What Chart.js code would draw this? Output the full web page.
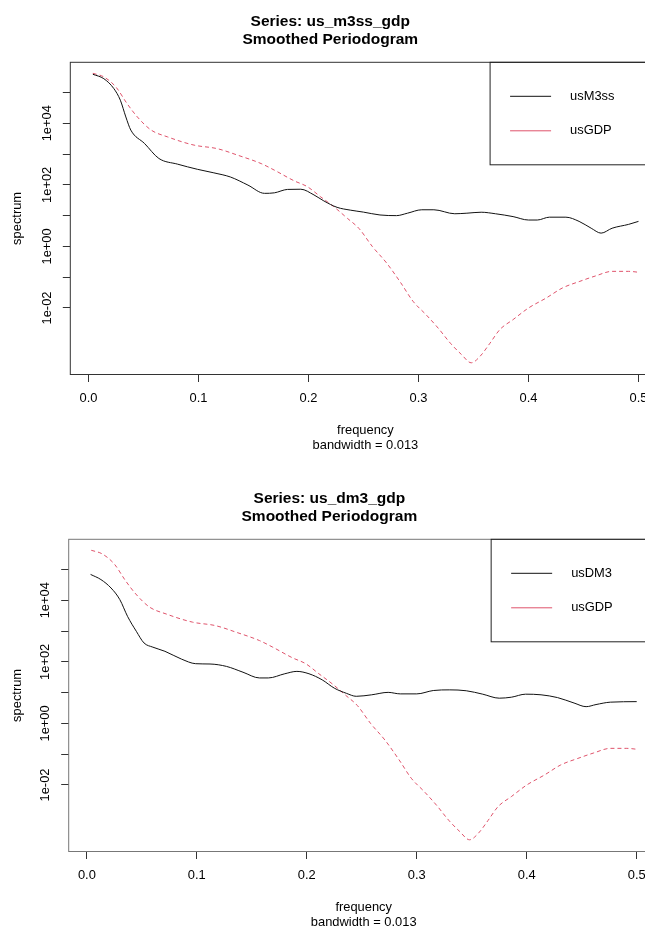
<!DOCTYPE html>
<html>
<head>
<meta charset="utf-8">
<script src="https://cdn.jsdelivr.net/npm/chart.js@4.4.0/dist/chart.umd.min.js"></script>
<style>
  html, body { margin: 0; padding: 0; background: #fff; overflow: hidden; }
  body { width: 645px; height: 928px; position: relative; }
  canvas { position: absolute; left: 0; }
  #m3ss { top: 0; }
  #dm3 { top: 477px; }
</style>
</head>
<body>
<canvas id="m3ss" width="731" height="460"></canvas>
<canvas id="dm3" width="727" height="460"></canvas>
<script>
// smoothed periodogram estimates: frequency / spectrum pairs per series
const m3ssFreq = [0.004, 0.014, 0.023, 0.029, 0.034, 0.0385, 0.051, 0.064, 0.081, 0.099,
  0.114, 0.129, 0.145, 0.160, 0.169, 0.181, 0.193, 0.205, 0.214, 0.226, 0.238, 0.250,
  0.265, 0.280, 0.290, 0.303, 0.314, 0.333, 0.344, 0.357, 0.370, 0.386, 0.400, 0.408,
  0.419, 0.434, 0.446, 0.457, 0.466, 0.476, 0.491, 0.500];
const m3ssSpec = [3.9e5, 2.8e5, 1.35e5, 5.6e4, 1.6e4, 6.0e3, 2.2e3, 7.2e2, 4.7e2, 3.2e2,
  2.45e2, 1.8e2, 98, 53, 55, 71, 72, 47, 30, 18.6, 15.1, 13.0,
  10.5, 10.0, 12.0, 15.5, 15.5, 11.5, 12.0, 12.9, 11.5, 9.3, 7.2, 7.2,
  8.9, 8.9, 6.5, 3.9, 2.7, 3.9, 5.2, 6.5];

const gdpFreq = [0.004, 0.014, 0.025, 0.035, 0.0445, 0.057, 0.072, 0.096, 0.117, 0.136,
  0.157, 0.169, 0.187, 0.199, 0.211, 0.223, 0.2355, 0.246, 0.258, 0.271, 0.284, 0.295,
  0.307, 0.318, 0.329, 0.339, 0.348, 0.356, 0.365, 0.374, 0.386, 0.400, 0.416, 0.431,
  0.446, 0.461, 0.476, 0.491, 0.500];
const gdpSpec = [4.2e5, 3.2e5, 1.5e5, 4.4e4, 1.6e4, 6.0e3, 3.6e3, 1.95e3, 1.5e3, 9.1e2,
  4.9e2, 3.0e2, 1.35e2, 87, 41, 19.5, 8.1, 3.8, 1.0, 0.29, 0.065, 0.0166,
  6.0e-3, 2.2e-3, 7.2e-4, 3.1e-4, 1.66e-4, 2.7e-4, 7.2e-4, 2.0e-3, 4.2e-3, 0.010, 0.021, 0.045,
  0.072, 0.11, 0.155, 0.155, 0.145];

const dm3Freq = [0.0034, 0.0128, 0.022, 0.030, 0.037, 0.045, 0.052, 0.060, 0.071, 0.086,
  0.099, 0.112, 0.127, 0.142, 0.157, 0.165, 0.180, 0.191, 0.202, 0.214, 0.225, 0.236,
  0.245, 0.259, 0.274, 0.285, 0.300, 0.315, 0.330, 0.345, 0.360, 0.375, 0.386, 0.399,
  0.413, 0.428, 0.443, 0.454, 0.463, 0.476, 0.500];
const dm3Spec = [6.9e4, 4.7e4, 2.5e4, 1.05e4, 3.0e3, 9.8e2, 4.1e2, 3.0e2, 2.2e2, 1.23e2,
  87, 85, 71, 46, 30, 30, 41, 49, 41, 26, 14, 9.5,
  7.6, 8.5, 10.2, 9.1, 9.1, 11.7, 12.3, 11.5, 8.9, 6.6, 7.1, 8.9,
  8.5, 6.9, 4.6, 3.5, 4.1, 4.9, 5.1];

const xTickValues = [0, 0.1, 0.2, 0.3, 0.4, 0.5];
const xTickLabels = ['0.0', '0.1', '0.2', '0.3', '0.4', '0.5'];
const yTickValues = [1e-2, 1e-1, 1e0, 1e1, 1e2, 1e3, 1e4, 1e5];
const yTickLabels = ['1e-02', '', '1e+00', '', '1e+02', '', '1e+04', ''];

const FONT = '"Liberation Sans", Arial, Helvetica, sans-serif';
const TEXT_SIZE = 12.9;
Chart.defaults.font.family = FONT;
Chart.defaults.color = '#000';

const toPoints = (xs, ys) => xs.map((x, i) => ({ x: x, y: ys[i] }));

// base-graphics look: plot box, rotated y labels, topright legend
const basePlot = {
  id: 'basePlot',
  afterDraw(chart, args, opts) {
    const { ctx, chartArea: a, scales } = chart;
    ctx.save();
    ctx.lineWidth = 1;
    ctx.strokeStyle = opts.boxColor;
    ctx.strokeRect(a.left, a.top, a.right - a.left, a.bottom - a.top);

    ctx.fillStyle = '#000';
    ctx.font = TEXT_SIZE + 'px ' + FONT;
    ctx.textAlign = 'center';
    ctx.textBaseline = 'middle';
    scales.y.ticks.forEach((t, i) => {
      const text = yTickLabels[i];
      if (!text) return;
      ctx.save();
      ctx.translate(a.left - 23, scales.y.getPixelForValue(t.value));
      ctx.rotate(-Math.PI / 2);
      ctx.fillText(text, 0, 0);
      ctx.restore();
    });

    const ds = chart.data.datasets;
    const textW = Math.max(...ds.map(d => ctx.measureText(d.label).width));
    const left = a.right - textW - 126;
    ctx.strokeStyle = '#222';
    ctx.strokeRect(left, a.top, a.right - left, 102.5);
    ctx.textAlign = 'left';
    ds.forEach((d, i) => {
      const y = a.top + 34 + i * 34.5;
      ctx.strokeStyle = d.borderColor;
      ctx.beginPath();
      ctx.moveTo(left + 20, y);
      ctx.lineTo(left + 61, y);
      ctx.stroke();
      ctx.fillText(d.label, left + 80, y);
    });
    ctx.restore();
  }
};

function periodogram(id, title, series, opts) {
  const axisFont = { size: TEXT_SIZE, lineHeight: '15px' };
  return new Chart(document.getElementById(id), {
    type: 'line',
    data: {
      datasets: series.map(s => ({
        label: s.label,
        data: toPoints(s.freq, s.spec),
        borderColor: s.color,
        borderWidth: 1,
        borderDash: s.dash || [],
        pointRadius: 0,
        cubicInterpolationMode: 'monotone',
        fill: false
      }))
    },
    options: {
      responsive: false,
      animation: false,
      devicePixelRatio: 1,
      layout: { padding: { left: 0, right: opts.padRight, top: 0, bottom: 7 } },
      plugins: {
        legend: { display: false },
        tooltip: { enabled: false },
        title: {
          display: true,
          text: title,
          color: '#000',
          font: { size: 15.5, weight: 'bold', lineHeight: '18.3px' },
          padding: { top: 12.5, bottom: 13.2 }
        },
        basePlot: { boxColor: opts.boxColor }
      },
      scales: {
        x: {
          type: 'linear',
          min: -0.0165,
          max: 0.52,
          afterBuildTicks: s => { s.ticks = xTickValues.map(v => ({ value: v })); },
          afterFit: s => { s.height = 78.5; },
          ticks: {
            callback: (v, i) => xTickLabels[i],
            font: axisFont,
            padding: 8.7,
            maxRotation: 0,
            autoSkip: false,
            color: '#000'
          },
          grid: { drawOnChartArea: false, drawTicks: true, tickLength: 7.5, color: '#333' },
          border: { display: false },
          title: {
            display: true,
            text: ['frequency', 'bandwidth = 0.013'],
            font: axisFont,
            padding: 0,
            color: '#000'
          }
        },
        y: {
          type: 'logarithmic',
          min: Math.pow(10, -4.16),
          max: Math.pow(10, 5.98),
          afterBuildTicks: s => { s.ticks = yTickValues.map(v => ({ value: v })); },
          afterFit: s => { s.width = opts.axisWidth; },
          ticks: { display: false },
          grid: { drawOnChartArea: false, drawTicks: true, tickLength: 7.5, color: '#333' },
          border: { display: false },
          title: {
            display: true,
            text: 'spectrum',
            font: axisFont,
            padding: { top: 9.5, bottom: 0 },
            color: '#000'
          }
        }
      }
    },
    plugins: [basePlot]
  });
}

const BLACK = '#111';
const RED = '#DF536B';

periodogram('m3ss', ['Series: us_m3ss_gdp', 'Smoothed Periodogram'], [
  { label: 'usM3ss', freq: m3ssFreq, spec: m3ssSpec, color: BLACK },
  { label: 'usGDP', freq: gdpFreq, spec: gdpSpec, color: RED, dash: [4, 3] }
], { axisWidth: 70.3, padRight: 70.5, boxColor: '#333' });

periodogram('dm3', ['Series: us_dm3_gdp', 'Smoothed Periodogram'], [
  { label: 'usDM3', freq: dm3Freq, spec: dm3Spec, color: BLACK },
  { label: 'usGDP', freq: gdpFreq, spec: gdpSpec, color: RED, dash: [4, 3] }
], { axisWidth: 68.7, padRight: 68.3, boxColor: '#777' });
</script>
</body>
</html>
